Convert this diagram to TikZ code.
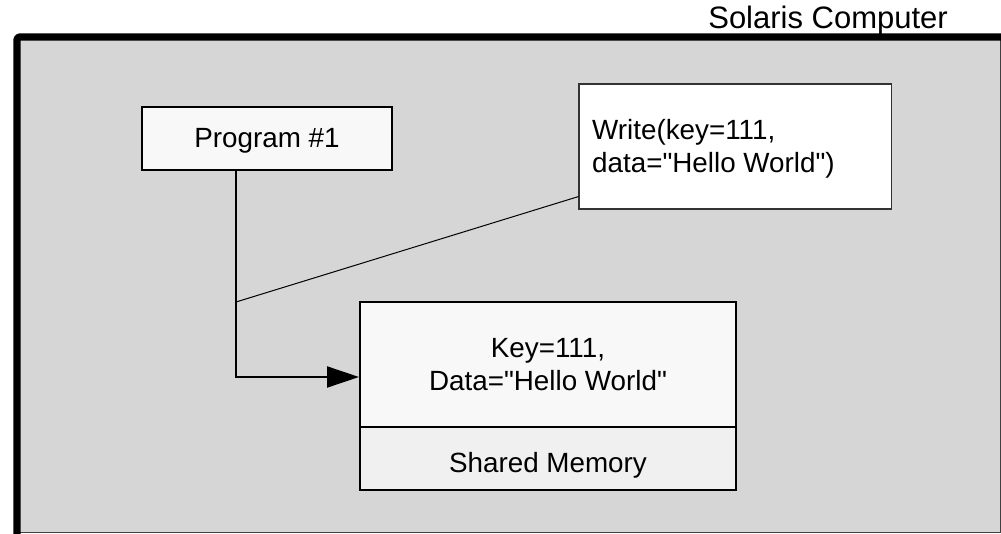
\documentclass[tikz,border=0pt]{standalone}
\usepackage{fontspec}
\setmainfont{Liberation Sans}[Ligatures=TeXOff]
\usetikzlibrary{arrows.meta,calc}
\definecolor{framegray}{HTML}{D6D6D6}
\definecolor{boxlight}{HTML}{F8F8F8}
\definecolor{boxlower}{HTML}{F0F0F0}
\begin{document}
\begin{tikzpicture}[x=1pt,y=-1pt,
  txt/.style={font=\fontsize{27.8}{32.5}\selectfont},
  boxnode/.style={draw=black,line width=2pt,inner sep=0pt,txt},
  conn/.style={draw=black,line width=2pt},
  thinconn/.style={draw=black,line width=1pt}]
\useasboundingbox (0,0) rectangle (1001,534);
% outer frame
\fill[framegray] (17,37) rectangle (1000.5,532.5);
\draw[line width=1.5pt,black!75] (17,532.5) -- (1000.5,532.5) -- (1000.5,37);
\draw[line width=7.4pt,line join=round,rounded corners=3pt] (17,534) -- (17,37) -- (1001,37);
\node[txt,font=\fontsize{31}{36}\selectfont,anchor=base east,inner sep=0pt] (title) at (948,29) {Solaris Computer};
% boxes
\node[boxnode,fill=boxlight,minimum width=250.6pt,minimum height=62.7pt,
      text height=20pt,text depth=2.8pt] (prog) at (267,138.7) {Program \#1};
\node[draw=black!80,line width=1.2pt,fill=white,minimum width=312.7pt,minimum height=125pt,inner sep=0pt] (write) at (735.3,146.5) {};
\node[txt,anchor=west,align=left,inner sep=0pt] (wtext) at (592,148.9) {Write(key=111,\\data="Hello World")};
\node[boxnode,fill=boxlight,minimum width=376pt,minimum height=125pt,align=center] (mem) at (548,364.5) {Key=111,\\Data="Hello World"};
\node[boxnode,fill=boxlower,minimum width=376pt,minimum height=63pt,
      text height=27pt,text depth=0pt] (shm) at (548,458.5) {Shared Memory};
% connectors
\coordinate (bend) at (236,377);
\coordinate (tap) at (236,302);
\coordinate (wtap) at ($(write.south west)+(0,-13)$);
\draw[conn,-{Triangle[length=32pt,width=21pt]}] (prog.south -| bend) |- (bend -| mem.west);
\draw[thinconn] (tap) -- (wtap);
\end{tikzpicture}
\end{document}
